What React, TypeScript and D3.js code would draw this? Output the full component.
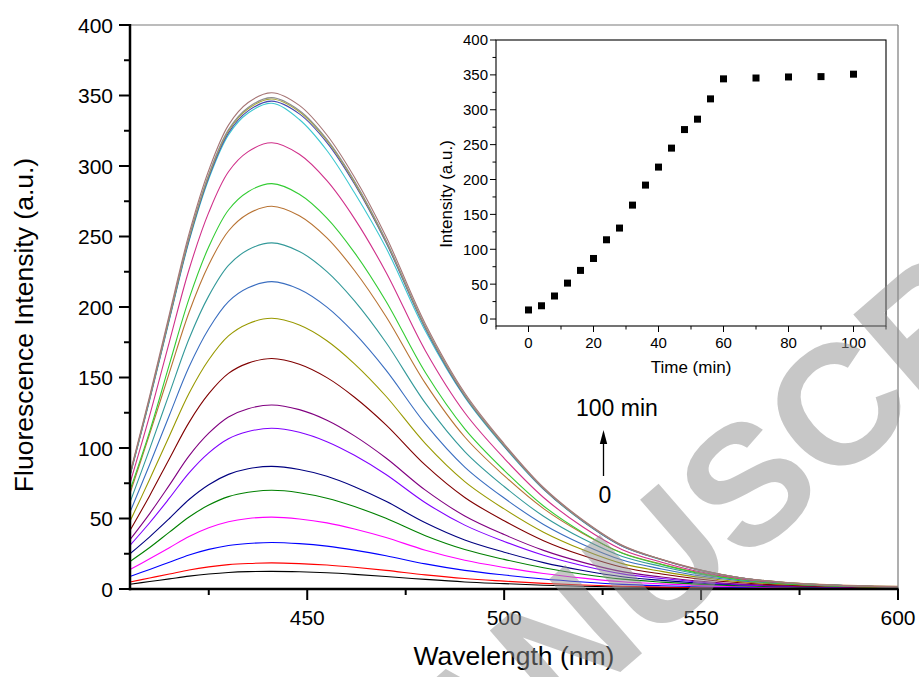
import React from 'react';
import * as d3 from 'd3';

// ---------- Main chart data (fluorescence spectra, one per reaction time) ----------
const WAVELENGTHS = [405, 410, 415, 420, 425, 430, 435, 441, 448, 455, 462, 470, 480, 490, 500, 510, 520, 530, 540, 550, 560, 570, 580, 590, 600];

const SPEC_T0 = [3.4, 5.3, 7.2, 9.1, 10.6, 11.7, 12.3, 12.5, 12.2, 11.5, 10.4, 8.9, 6.8, 5.0, 3.8, 2.7, 1.9, 1.4, 1.1, 0.9, 0.7, 0.6, 0.5, 0.5, 0.4];
const SPEC_T4 = [5.0, 7.8, 10.6, 13.5, 15.7, 17.3, 18.1, 18.5, 18.0, 17.0, 15.4, 13.2, 10.0, 7.4, 5.6, 4.0, 2.8, 1.9, 1.3, 0.9, 0.7, 0.5, 0.4, 0.35, 0.3];
const SPEC_T8 = [8.9, 13.9, 19.0, 24.1, 28.1, 30.9, 32.3, 33.0, 32.2, 30.4, 27.6, 23.6, 17.8, 13.2, 9.9, 7.1, 5.0, 3.3, 2.3, 1.6, 1.1, 0.8, 0.6, 0.45, 0.4];
const SPEC_T12 = [13.8, 21.4, 29.3, 37.2, 43.4, 47.7, 50.0, 51.0, 49.7, 46.9, 42.6, 36.5, 27.5, 20.4, 15.3, 11.0, 7.7, 5.1, 3.6, 2.4, 1.6, 1.1, 0.8, 0.6, 0.5];
const SPEC_T16 = [19.5, 29.4, 40.3, 51.1, 59.5, 65.5, 68.6, 70.0, 68.3, 64.4, 58.5, 50.1, 37.8, 28.0, 21.0, 15.1, 10.5, 7.0, 4.9, 3.3, 2.2, 1.5, 1.1, 0.8, 0.7];
const SPEC_T20 = [25.0, 37.0, 50.0, 63.5, 74.0, 81.3, 85.3, 87.0, 84.8, 80.0, 72.6, 62.2, 47.0, 34.8, 26.1, 18.7, 13.1, 8.7, 6.1, 4.1, 2.8, 1.9, 1.4, 1.0, 0.9];
const SPEC_T24 = [31.0, 47.0, 64.4, 82.4, 96.6, 106.6, 111.7, 114.0, 111.2, 104.5, 94.8, 81.2, 61.2, 45.3, 33.7, 23.9, 16.5, 10.7, 7.4, 4.8, 3.1, 2.1, 1.4, 1.0, 0.8];
const SPEC_T28 = [35.0, 53.5, 73.7, 94.4, 110.5, 122.0, 127.9, 130.5, 127.2, 119.7, 108.6, 92.9, 70.1, 51.8, 38.6, 27.4, 18.9, 12.3, 8.5, 5.5, 3.5, 2.3, 1.6, 1.2, 0.9];
const SPEC_T32 = [41.5, 66.2, 92.4, 118.2, 138.5, 152.9, 160.2, 163.5, 159.4, 149.9, 136.0, 116.4, 87.8, 64.9, 48.4, 34.3, 23.7, 15.4, 10.6, 6.9, 4.4, 2.9, 2.0, 1.5, 1.1];
const SPEC_T36 = [48.0, 77.8, 108.5, 138.8, 162.6, 179.5, 188.2, 192.0, 187.2, 176.1, 159.7, 136.7, 103.1, 76.2, 56.8, 40.3, 27.8, 18.0, 12.5, 8.1, 5.2, 3.5, 2.3, 1.7, 1.3];
const SPEC_T40 = [54.5, 88.3, 123.2, 157.6, 184.6, 203.8, 213.6, 218.0, 212.6, 199.9, 181.4, 155.2, 117.1, 86.5, 64.5, 45.8, 31.6, 20.5, 14.2, 9.2, 5.9, 3.9, 2.6, 2.0, 1.5];
const SPEC_T44 = [61.4, 99.4, 138.7, 177.5, 207.9, 229.5, 240.6, 245.5, 239.4, 225.1, 204.3, 174.8, 131.8, 97.5, 72.7, 51.6, 35.6, 23.1, 16.0, 10.3, 6.6, 4.4, 2.9, 2.2, 1.7];
const SPEC_T48 = [67.9, 110.0, 153.4, 196.3, 230.0, 253.9, 266.1, 271.5, 264.7, 249.0, 225.9, 193.3, 145.8, 107.8, 80.4, 57.0, 39.4, 25.5, 17.6, 11.4, 7.3, 4.9, 3.3, 2.4, 1.9];
const SPEC_T52 = [70.0, 111.8, 159.3, 205.9, 242.7, 268.8, 281.8, 287.5, 280.0, 263.1, 238.6, 204.1, 153.5, 113.6, 84.2, 58.9, 40.0, 25.3, 17.3, 10.9, 6.6, 4.0, 2.6, 1.7, 1.2];
const SPEC_T56 = [75.0, 123.1, 175.3, 226.6, 267.1, 295.9, 310.2, 316.5, 308.3, 289.6, 262.7, 224.7, 169.0, 125.0, 92.7, 64.9, 44.0, 27.9, 19.0, 12.0, 7.3, 4.4, 2.8, 1.9, 1.3];
const SPEC_T60 = [80.3, 134.0, 190.9, 246.7, 290.8, 322.1, 337.6, 344.5, 333.0, 311.0, 281.0, 242.0, 183.0, 136.1, 100.9, 70.6, 47.9, 30.3, 20.7, 13.1, 7.9, 4.8, 3.1, 2.1, 1.4];
const SPEC_T70 = [80.6, 134.6, 191.7, 247.7, 292.0, 323.5, 339.1, 346.0, 337.0, 316.6, 287.2, 245.7, 184.8, 136.7, 101.4, 70.9, 48.1, 30.4, 20.8, 13.1, 8.0, 4.8, 3.1, 2.1, 1.4];
const SPEC_T80 = [81.0, 135.2, 192.5, 248.8, 293.3, 324.9, 340.6, 347.5, 338.5, 318.0, 288.4, 246.7, 185.6, 137.3, 101.8, 71.2, 48.3, 30.6, 20.9, 13.2, 8.0, 4.9, 3.1, 2.1, 1.4];
const SPEC_T90 = [81.2, 135.6, 193.1, 249.5, 294.1, 325.8, 341.5, 348.5, 339.4, 318.9, 289.3, 247.4, 186.1, 137.7, 102.1, 71.4, 48.4, 30.7, 20.9, 13.2, 8.0, 4.9, 3.1, 2.1, 1.4];
const SPEC_T100 = [82.0, 137.0, 195.0, 252.0, 297.0, 329.0, 345.0, 352.0, 343.0, 322.0, 292.0, 250.0, 188.0, 139.0, 103.0, 72.0, 49.0, 31.0, 21.0, 13.5, 8.0, 5.0, 3.2, 2.2, 1.5];

const SPECTRA = [
  SPEC_T0, SPEC_T4, SPEC_T8, SPEC_T12, SPEC_T16, SPEC_T20, SPEC_T24, SPEC_T28, SPEC_T32, SPEC_T36,
  SPEC_T40, SPEC_T44, SPEC_T48, SPEC_T52, SPEC_T56, SPEC_T60, SPEC_T70, SPEC_T80, SPEC_T90, SPEC_T100,
];

const SPECTRA_COLORS = [
  '#000000', '#FF0000', '#0000FF', '#FF00FF', '#008000', '#000080', '#8000FF', '#800080', '#800000', '#999900',
  '#3A6EC0', '#339999', '#B87333', '#33CC33', '#D0308A', '#3CC8D0', '#4848B0', '#A8A838', '#8E8E8E', '#A67575',
];

const MAIN_X_TICKS = [450, 500, 550, 600];
const MAIN_X_MINOR = [425, 475, 525, 575];
const MAIN_Y_TICKS = [0, 50, 100, 150, 200, 250, 300, 350, 400];
const MAIN_Y_MINOR = [25, 75, 125, 175, 225, 275, 325, 375];

// ---------- Inset data (peak intensity vs time) ----------
const TIME_MIN = [0, 4, 8, 12, 16, 20, 24, 28, 32, 36, 40, 44, 48, 52, 56, 60, 70, 80, 90, 100];
const PEAK_INTENSITY = [13, 19, 33, 51.5, 69.7, 86.8, 113.6, 130.4, 163.3, 192, 217.8, 245, 271.6, 286.5, 315.6, 344.3, 345.5, 347, 347.5, 351];

const INSET_X_TICKS = [0, 20, 40, 60, 80, 100];
const INSET_X_MINOR = [-10, 10, 30, 50, 70, 90, 110];
const INSET_Y_TICKS = [0, 50, 100, 150, 200, 250, 300, 350, 400];
const INSET_Y_MINOR = [25, 75, 125, 175, 225, 275, 325, 375];

const FONT = '"Liberation Sans", Arial, Helvetica, sans-serif';

export default function App() {
  const W = 919;
  const H = 677;

  // main scales
  const x = d3.scaleLinear().domain([405, 600]).range([130, 898]);
  const y = d3.scaleLinear().domain([0, 400]).range([589, 25]);

  // inset scales
  const ix = d3.scaleLinear().domain([-10, 110]).range([496, 886]);
  const iy = d3.scaleLinear().domain([-10, 400]).range([326, 40]);

  const line = d3
    .line<number>()
    .x((_, i) => x(WAVELENGTHS[i]))
    .y((d) => y(d))
    .curve(d3.curveCatmullRom.alpha(0.5));

  const [x0, x1] = x.range();
  const [y0, y1] = y.range();
  const [ix0, ix1] = ix.range();
  const [iy0, iy1] = iy.range();

  const sq = 7;

  return (
    <svg
      width={W}
      height={H}
      viewBox={`0 0 ${W} ${H}`}
      style={{ position: 'absolute', left: 0, top: 0, background: '#fff' }}
      fontFamily={FONT}
    >
      <rect x={0} y={0} width={W} height={H} fill="#fff" />

      {/* spectra */}
      <g fill="none" strokeWidth={1.1}>
        {SPECTRA.map((s, i) => (
          <path key={i} d={line(s) || ''} stroke={SPECTRA_COLORS[i]} />
        ))}
      </g>

      {/* main frame: top & right grey */}
      <line x1={x0} x2={x1} y1={y1} y2={y1} stroke="#7a7a7a" strokeWidth={1.2} />
      <line x1={x1} x2={x1} y1={y1} y2={y0} stroke="#7a7a7a" strokeWidth={1.2} />

      {/* main left axis */}
      <line x1={x0} x2={x0} y1={y1 - 1} y2={y0 + 1.2} stroke="#000" strokeWidth={2.5} />
      {MAIN_Y_TICKS.map((t) => (
        <line key={'yt' + t} x1={x0 - 11} x2={x0} y1={y(t)} y2={y(t)} stroke="#000" strokeWidth={2} />
      ))}
      {MAIN_Y_MINOR.map((t) => (
        <line key={'ym' + t} x1={x0 - 6} x2={x0} y1={y(t)} y2={y(t)} stroke="#000" strokeWidth={2} />
      ))}
      {MAIN_Y_TICKS.map((t) => (
        <text key={'yl' + t} x={113} y={y(t)} dy="0.36em" textAnchor="end" fontSize={21} fill="#000">
          {t}
        </text>
      ))}

      {/* main bottom axis */}
      <line x1={x0 - 1.2} x2={x1 + 0.6} y1={y0} y2={y0} stroke="#000" strokeWidth={2.5} />
      {MAIN_X_TICKS.map((t) => (
        <line key={'xt' + t} x1={x(t)} x2={x(t)} y1={y0} y2={y0 + 11} stroke="#000" strokeWidth={2} />
      ))}
      {MAIN_X_MINOR.map((t) => (
        <line key={'xm' + t} x1={x(t)} x2={x(t)} y1={y0} y2={y0 + 6} stroke="#000" strokeWidth={2} />
      ))}
      {MAIN_X_TICKS.map((t) => (
        <text key={'xl' + t} x={x(t)} y={625} textAnchor="middle" fontSize={21} fill="#000">
          {t}
        </text>
      ))}

      {/* main axis titles */}
      <text x={514} y={665} textAnchor="middle" fontSize={26.5} fill="#000">
        Wavelength (nm)
      </text>
      <text transform="translate(33,325) rotate(-90)" textAnchor="middle" fontSize={26.5} fill="#000">
        Fluorescence Intensity (a.u.)
      </text>

      {/* annotation arrow */}
      <text x={576} y={416} fontSize={23} fill="#000">
        100 min
      </text>
      <line x1={603.5} x2={603.5} y1={476} y2={441} stroke="#000" strokeWidth={1.3} />
      <path d="M603.5,430 L599.8,444 L607.2,444 Z" fill="#000" />
      <text x={605} y={503} textAnchor="middle" fontSize={23} fill="#000">
        0
      </text>

      {/* ---------- inset ---------- */}
      <rect x={ix0} y={iy1} width={ix1 - ix0} height={iy0 - iy1} fill="none" stroke="#000" strokeWidth={1.1} />
      {INSET_Y_TICKS.map((t) => (
        <line key={'iyt' + t} x1={ix0 - 6} x2={ix0} y1={iy(t)} y2={iy(t)} stroke="#000" strokeWidth={1} />
      ))}
      {INSET_Y_MINOR.map((t) => (
        <line key={'iym' + t} x1={ix0 - 3.5} x2={ix0} y1={iy(t)} y2={iy(t)} stroke="#000" strokeWidth={1} />
      ))}
      {INSET_Y_TICKS.map((t) => (
        <text key={'iyl' + t} x={488} y={iy(t)} dy="0.36em" textAnchor="end" fontSize={15} fill="#000">
          {t}
        </text>
      ))}
      {INSET_X_TICKS.map((t) => (
        <line key={'ixt' + t} x1={ix(t)} x2={ix(t)} y1={iy0} y2={iy0 + 6} stroke="#000" strokeWidth={1} />
      ))}
      {INSET_X_MINOR.map((t) => (
        <line key={'ixm' + t} x1={ix(t)} x2={ix(t)} y1={iy0} y2={iy0 + 3.5} stroke="#000" strokeWidth={1} />
      ))}
      {INSET_X_TICKS.map((t) => (
        <text key={'ixl' + t} x={ix(t)} y={348} textAnchor="middle" fontSize={15} fill="#000">
          {t}
        </text>
      ))}
      <text x={691} y={373} textAnchor="middle" fontSize={17} fill="#000">
        Time (min)
      </text>
      <text transform="translate(452,194) rotate(-90)" textAnchor="middle" fontSize={17} fill="#000">
        Intensity (a.u.)
      </text>
      {TIME_MIN.map((t, i) => (
        <rect
          key={'pt' + t}
          x={ix(t) - sq / 2}
          y={iy(PEAK_INTENSITY[i]) - sq / 2}
          width={sq}
          height={sq}
          fill="#000"
        />
      ))}

      {/* watermark */}
      <text
        transform="translate(746,482) rotate(-41)"
        y={61}
        textAnchor="middle"
        fontSize={170}
        fontWeight="bold"
        fill="#909090"
        fillOpacity={0.5}
      >
        MANUSCRIPT
      </text>
    </svg>
  );
}
